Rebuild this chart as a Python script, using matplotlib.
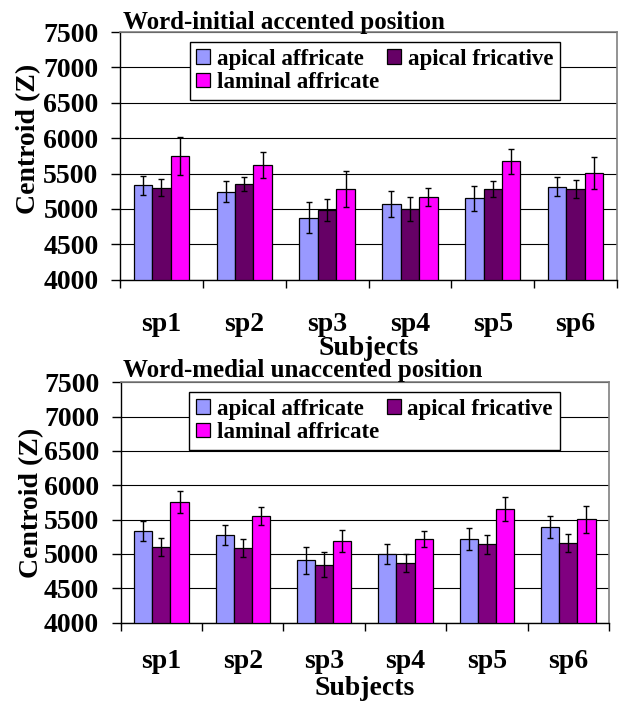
import matplotlib
matplotlib.use("Agg")
import matplotlib.pyplot as plt
import numpy as np

plt.rcParams['font.family'] = ['Liberation Serif', 'DejaVu Serif']
plt.rcParams['font.weight'] = 'bold'

subjects = ['sp1', 'sp2', 'sp3', 'sp4', 'sp5', 'sp6']
series = ['apical affricate', 'apical fricative', 'laminal affricate']

# word-initial accented position
init_aa = [5337, 5246, 4878, 5067, 5152, 5317]
init_af = [5299, 5351, 4991, 4997, 5275, 5275]
init_la = [5747, 5624, 5284, 5167, 5671, 5511]
init_aa_err = [135, 144, 225, 180, 175, 137]
init_af_err = [118, 97, 155, 165, 113, 127]
init_la_err = [265, 180, 255, 122, 180, 227]

# word-medial unaccented position
med_aa = [5339, 5277, 4908, 5000, 5219, 5393]
med_af = [5102, 5083, 4845, 4874, 5141, 5156]
med_la = [5753, 5549, 5190, 5219, 5651, 5505]
med_aa_err = [145, 152, 200, 145, 160, 162]
med_af_err = [131, 133, 182, 131, 140, 131]
med_la_err = [157, 128, 158, 110, 172, 193]

fig = plt.figure(figsize=(6.23, 7.04), dpi=100)


def panel(rect, title, title_y, vals, errs, cols, ylab_y, xlab_y, xpad):
    ax = fig.add_axes(rect)
    x = np.arange(len(subjects))
    w = 0.223
    bars = []
    for i, (v, e, c) in enumerate(zip(vals, errs, cols)):
        b = ax.bar(x + (i - 1) * w, np.array(v) - 4000, w, bottom=4000,
                   color=c, edgecolor='black', linewidth=0.9, zorder=3)
        ax.errorbar(x + (i - 1) * w, v, yerr=e, fmt='none', ecolor='black',
                    elinewidth=1, capsize=2.5, capthick=1, zorder=4)
        bars.append(b)
    ax.set_xlim(-0.5, 5.5)
    ax.set_ylim(4000, 7500)
    ax.set_yticks(np.arange(4000, 7501, 500))
    ax.grid(axis='y', color='black', linewidth=0.8, zorder=0)
    ax.set_xticks(np.arange(-0.5, 6, 1))
    ax.set_xticklabels([])
    ax.set_xticks(x, minor=True)
    ax.set_xticklabels(subjects, minor=True, fontsize=20, fontweight='bold')
    ax.tick_params(axis='x', which='major', length=6, width=1, direction='out')
    ax.tick_params(axis='x', which='minor', length=0, pad=xpad)
    ax.tick_params(axis='y', length=6.5, width=1, pad=9, labelsize=20)
    for s in ['top', 'right']:
        ax.spines[s].set_color('#808080')
        ax.spines[s].set_linewidth(1.2)
    for s in ['left', 'bottom']:
        ax.spines[s].set_color('black')
        ax.spines[s].set_linewidth(1)
    ax.set_xlabel('Subjects', fontsize=20, fontweight='bold', va='baseline')
    ax.xaxis.set_label_coords(0.5, xlab_y)
    ax.set_ylabel('Centroid (Z)', fontsize=20, fontweight='bold', va='center')
    ax.yaxis.set_label_coords(-0.183, ylab_y)
    fig.text(0.197, title_y, title, fontsize=18, fontweight='bold', va='baseline')
    leg = ax.legend([bars[0], bars[2], bars[1]],
                    [series[0], series[2], series[1]],
                    ncol=2, loc='upper left', bbox_to_anchor=(0.14, 0.96),
                    prop={'size': 16.5, 'weight': 'bold'},
                    fancybox=False, framealpha=1, edgecolor='black',
                    handlelength=0.6, handleheight=0.6, handletextpad=0.3,
                    columnspacing=0.35, borderpad=0.3, labelspacing=0.1,
                    borderaxespad=0)
    leg.get_frame().set_linewidth(1)
    leg.set_zorder(5)
    return ax


panel([0.1926, 0.6027, 0.7978, 0.3518], 'Word-initial accented position', 0.9588,
      [init_aa, init_af, init_la], [init_aa_err, init_af_err, init_la_err],
      ['#9999FF', '#660066', '#FF00FF'], 0.568, -0.305, 23)
panel([0.1937, 0.1155, 0.7838, 0.3415], 'Word-medial unaccented position', 0.4645,
      [med_aa, med_af, med_la], [med_aa_err, med_af_err, med_la_err],
      ['#9999FF', '#800080', '#FF00FF'], 0.5, -0.3, 19)

fig.savefig('out.png', dpi=100)
